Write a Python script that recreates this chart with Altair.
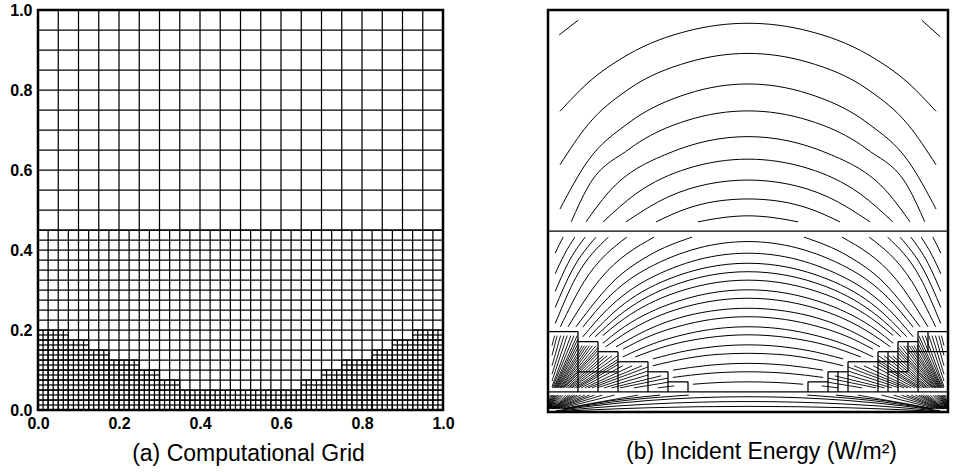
import altair as alt
import pandas as pd

FONT = "Liberation Sans"

# ---------------- (a) computational grid: spacing and block layout ----------------
COARSE_STEP = 0.05
MEDIUM_STEP = 0.025
FINE_STEP = 0.0125
INTERFACE_Y = 0.45
STEP_EDGES = [0.0, 0.075, 0.125, 0.175, 0.25, 0.3, 0.35, 0.65, 0.7, 0.75, 0.825, 0.875, 0.925, 1.0]
STEP_TOPS = [0.2, 0.175, 0.15, 0.125, 0.1, 0.075, 0.05, 0.075, 0.1, 0.125, 0.15, 0.175, 0.2]
TICKS = [0.0, 0.2, 0.4, 0.6, 0.8, 1.0]

# ---------------- (b) incident energy: contour lines ----------------
TOP_ARCS = [
    ([0.03, 0.1, 0.2, 0.35, 0.5, 0.65, 0.8, 0.9, 0.97], [0.748, 0.819, 0.889, 0.948, 0.967, 0.948, 0.889, 0.819, 0.748]),
    ([0.03, 0.1, 0.2, 0.35, 0.5, 0.65, 0.8, 0.9, 0.97], [0.615, 0.715, 0.802, 0.870, 0.892, 0.870, 0.802, 0.715, 0.615]),
    ([0.03, 0.1, 0.2, 0.35, 0.5, 0.65, 0.8, 0.9, 0.97], [0.505, 0.625, 0.718, 0.792, 0.816, 0.792, 0.718, 0.625, 0.505]),
    ([0.058, 0.1, 0.2, 0.35, 0.5, 0.65, 0.8, 0.9, 0.942], [0.473, 0.560, 0.652, 0.726, 0.749, 0.726, 0.652, 0.560, 0.473]),
    ([0.095, 0.15, 0.3, 0.5, 0.7, 0.85, 0.905], [0.473, 0.545, 0.643, 0.685, 0.643, 0.545, 0.473]),
    ([0.138, 0.22, 0.35, 0.5, 0.65, 0.78, 0.862], [0.473, 0.543, 0.606, 0.629, 0.606, 0.543, 0.473]),
    ([0.195, 0.3, 0.4, 0.5, 0.6, 0.7, 0.805], [0.473, 0.535, 0.567, 0.577, 0.567, 0.535, 0.473]),
    ([0.270, 0.35, 0.42, 0.5, 0.58, 0.65, 0.730], [0.473, 0.507, 0.524, 0.530, 0.524, 0.507, 0.473]),
    ([0.375, 0.44, 0.5, 0.56, 0.625], [0.473, 0.484, 0.488, 0.484, 0.473]),
    ([0.028, 0.076], [0.938, 0.975]),
    ([0.934, 0.98], [0.975, 0.934]),
]

MID_ARCS = [
    ([0.087, 0.15, 0.25, 0.5, 0.75, 0.85, 0.913], [0.211, 0.284, 0.358, 0.424, 0.358, 0.284, 0.211]),
    ([0.087, 0.15, 0.25, 0.5, 0.75, 0.85, 0.913], [0.187, 0.257, 0.330, 0.395, 0.330, 0.257, 0.187]),
    ([0.103, 0.175, 0.3, 0.5, 0.7, 0.825, 0.897], [0.187, 0.257, 0.330, 0.370, 0.330, 0.257, 0.187]),
    ([0.118, 0.175, 0.3, 0.5, 0.7, 0.825, 0.882], [0.187, 0.238, 0.310, 0.349, 0.310, 0.238, 0.187]),
    ([0.137, 0.175, 0.3, 0.5, 0.7, 0.825, 0.863], [0.190, 0.221, 0.290, 0.328, 0.290, 0.221, 0.190]),
    ([0.137, 0.175, 0.3, 0.5, 0.7, 0.825, 0.863], [0.171, 0.201, 0.267, 0.304, 0.267, 0.201, 0.171]),
    ([0.144, 0.2, 0.3, 0.5, 0.7, 0.8, 0.856], [0.162, 0.200, 0.248, 0.283, 0.248, 0.200, 0.162]),
    ([0.170, 0.25, 0.35, 0.5, 0.65, 0.75, 0.830], [0.162, 0.205, 0.240, 0.258, 0.240, 0.205, 0.162]),
    ([0.187, 0.25, 0.35, 0.5, 0.65, 0.75, 0.813], [0.156, 0.187, 0.219, 0.237, 0.219, 0.187, 0.156]),
    ([0.187, 0.25, 0.35, 0.5, 0.65, 0.75, 0.813], [0.137, 0.165, 0.195, 0.212, 0.195, 0.165, 0.137]),
    ([0.218, 0.3, 0.4, 0.5, 0.6, 0.7, 0.782], [0.137, 0.165, 0.185, 0.192, 0.185, 0.165, 0.137]),
    ([0.262, 0.35, 0.42, 0.5, 0.58, 0.65, 0.738], [0.132, 0.153, 0.163, 0.167, 0.163, 0.153, 0.132]),
    ([0.262, 0.35, 0.42, 0.5, 0.58, 0.65, 0.738], [0.115, 0.134, 0.143, 0.146, 0.143, 0.134, 0.115]),
    ([0.312, 0.4, 0.5, 0.6, 0.688], [0.104, 0.116, 0.121, 0.116, 0.104]),
    ([0.312, 0.4, 0.5, 0.6, 0.688], [0.086, 0.096, 0.100, 0.096, 0.086]),
    ([0.362, 0.43, 0.5, 0.57, 0.638], [0.069, 0.0735, 0.075, 0.0735, 0.069]),
]

SIDE_ARCS = [
    ([0.018, 0.028, 0.038], [0.395, 0.416, 0.435]),
    ([0.018, 0.04, 0.067], [0.344, 0.390, 0.435]),
    ([0.018, 0.05, 0.093], [0.300, 0.370, 0.435]),
    ([0.018, 0.06, 0.12], [0.260, 0.352, 0.435]),
    ([0.018, 0.07, 0.151], [0.220, 0.335, 0.435]),
    ([0.031, 0.09, 0.197], [0.212, 0.324, 0.435]),
    ([0.05, 0.13, 0.265], [0.212, 0.330, 0.435]),
    ([0.07, 0.17, 0.25, 0.36], [0.212, 0.331, 0.388, 0.435]),
    ([0.962, 0.972, 0.982], [0.435, 0.416, 0.395]),
    ([0.933, 0.96, 0.982], [0.435, 0.390, 0.344]),
    ([0.907, 0.95, 0.982], [0.435, 0.370, 0.300]),
    ([0.88, 0.94, 0.982], [0.435, 0.352, 0.260]),
    ([0.849, 0.93, 0.982], [0.435, 0.335, 0.220]),
    ([0.803, 0.91, 0.969], [0.435, 0.324, 0.212]),
    ([0.735, 0.87, 0.95], [0.435, 0.330, 0.212]),
    ([0.64, 0.75, 0.83, 0.93], [0.435, 0.388, 0.331, 0.212]),
]

STRIP_ARCS = [
    ([0.02, 0.1, 0.25, 0.5, 0.75, 0.9, 0.98], [0.003, 0.0137, 0.0285, 0.038, 0.0285, 0.0137, 0.003]),
    ([0.02, 0.1, 0.25, 0.5, 0.75, 0.9, 0.98], [0.002, 0.0094, 0.0195, 0.026, 0.0195, 0.0094, 0.002]),
    ([0.02, 0.1, 0.25, 0.5, 0.75, 0.9, 0.98], [0.0011, 0.005, 0.0105, 0.014, 0.0105, 0.005, 0.0011]),
    ([0.04, 0.15, 0.28], [0.008, 0.027, 0.042]),
    ([0.72, 0.85, 0.96], [0.042, 0.027, 0.008]),
    ([0.045, 0.2, 0.352], [0.008, 0.0295, 0.042]),
    ([0.648, 0.8, 0.955], [0.042, 0.0295, 0.008]),
]

# short contour pieces inside the refined corner blocks (x, y, x2, y2)
FINE_LEFT = [
    (0.010, 0.165, 0.0165, 0.190), (0.010, 0.141, 0.023, 0.190), (0.010, 0.115, 0.0315, 0.190),
    (0.010, 0.094, 0.040, 0.190), (0.010, 0.077, 0.048, 0.190), (0.010, 0.063, 0.057, 0.190),
    (0.011, 0.060, 0.065, 0.190), (0.014, 0.060, 0.073, 0.190), (0.016, 0.060, 0.075, 0.182),
    (0.018, 0.060, 0.075, 0.170), (0.020, 0.060, 0.078, 0.165), (0.022, 0.060, 0.085, 0.165),
    (0.024, 0.060, 0.091, 0.165), (0.026, 0.060, 0.097, 0.165), (0.029, 0.060, 0.104, 0.165),
    (0.031, 0.060, 0.111, 0.165), (0.033, 0.060, 0.120, 0.165), (0.036, 0.060, 0.125, 0.161),
    (0.0385, 0.060, 0.125, 0.154), (0.041, 0.060, 0.125, 0.146), (0.045, 0.060, 0.128, 0.140),
    (0.049, 0.060, 0.138, 0.140), (0.052, 0.060, 0.148, 0.140), (0.056, 0.060, 0.160, 0.140),
    (0.060, 0.060, 0.174, 0.140), (0.066, 0.060, 0.175, 0.131), (0.071, 0.060, 0.175, 0.1245),
    (0.076, 0.060, 0.175, 0.118), (0.083, 0.060, 0.187, 0.115), (0.092, 0.060, 0.2105, 0.115),
    (0.100, 0.060, 0.235, 0.115), (0.110, 0.060, 0.250, 0.112), (0.1225, 0.060, 0.250, 0.102),
    (0.140, 0.060, 0.250, 0.092), (0.1585, 0.060, 0.283, 0.090), (0.180, 0.060, 0.300, 0.0845),
    (0.215, 0.060, 0.300, 0.074), (0.274, 0.060, 0.316, 0.065),
]
FINE_RIGHT = [
    (0.990, 0.165, 0.9835, 0.190), (0.990, 0.141, 0.977, 0.190), (0.990, 0.115, 0.9685, 0.190),
    (0.990, 0.094, 0.960, 0.190), (0.990, 0.077, 0.952, 0.190), (0.990, 0.063, 0.943, 0.190),
    (0.989, 0.060, 0.935, 0.190), (0.986, 0.060, 0.927, 0.190), (0.984, 0.060, 0.925, 0.182),
    (0.982, 0.060, 0.925, 0.170), (0.980, 0.060, 0.922, 0.165), (0.978, 0.060, 0.915, 0.165),
    (0.976, 0.060, 0.909, 0.165), (0.974, 0.060, 0.903, 0.165), (0.971, 0.060, 0.896, 0.165),
    (0.969, 0.060, 0.889, 0.165), (0.967, 0.060, 0.880, 0.165), (0.964, 0.060, 0.875, 0.161),
    (0.9615, 0.060, 0.875, 0.154), (0.959, 0.060, 0.875, 0.146), (0.955, 0.060, 0.872, 0.140),
    (0.951, 0.060, 0.862, 0.140), (0.948, 0.060, 0.852, 0.140), (0.944, 0.060, 0.840, 0.140),
    (0.940, 0.060, 0.826, 0.140), (0.934, 0.060, 0.825, 0.131), (0.929, 0.060, 0.825, 0.1245),
    (0.924, 0.060, 0.825, 0.118), (0.917, 0.060, 0.813, 0.115), (0.908, 0.060, 0.7895, 0.115),
    (0.900, 0.060, 0.765, 0.115), (0.890, 0.060, 0.750, 0.112), (0.8775, 0.060, 0.750, 0.102),
    (0.860, 0.060, 0.750, 0.092), (0.8415, 0.060, 0.717, 0.090), (0.820, 0.060, 0.700, 0.0845),
    (0.785, 0.060, 0.700, 0.074), (0.726, 0.060, 0.684, 0.065),
]
# fan of contour pieces in the bottom strip, converging on the corners (x, y, x2, y2)
FAN_LEFT = [
    (0.0008, 0.008, 0.0058, 0.042), (0.0014, 0.008, 0.0088, 0.042), (0.002, 0.008, 0.0119, 0.042),
    (0.0025, 0.008, 0.0148, 0.042), (0.003, 0.008, 0.0175, 0.042), (0.0035, 0.008, 0.0204, 0.042),
    (0.0042, 0.008, 0.0241, 0.042), (0.0049, 0.008, 0.0278, 0.042), (0.0058, 0.008, 0.0327, 0.042),
    (0.0066, 0.008, 0.0375, 0.042), (0.0078, 0.008, 0.0444, 0.042), (0.0089, 0.008, 0.051, 0.042),
    (0.0097, 0.008, 0.0556, 0.042), (0.0107, 0.008, 0.0614, 0.042), (0.0116, 0.008, 0.067, 0.042),
    (0.0126, 0.008, 0.0729, 0.042), (0.0139, 0.008, 0.0811, 0.042), (0.0159, 0.008, 0.0919, 0.042),
    (0.0177, 0.008, 0.1033, 0.042), (0.0197, 0.008, 0.116, 0.042), (0.0226, 0.008, 0.1358, 0.042),
    (0.0269, 0.008, 0.1663, 0.042), (0.0341, 0.008, 0.2248, 0.042),
]
FAN_RIGHT = [
    (0.9992, 0.008, 0.9942, 0.042), (0.9986, 0.008, 0.9912, 0.042), (0.998, 0.008, 0.9881, 0.042),
    (0.9975, 0.008, 0.9852, 0.042), (0.997, 0.008, 0.9825, 0.042), (0.9965, 0.008, 0.9796, 0.042),
    (0.9958, 0.008, 0.9759, 0.042), (0.9951, 0.008, 0.9722, 0.042), (0.9942, 0.008, 0.9673, 0.042),
    (0.9934, 0.008, 0.9625, 0.042), (0.9922, 0.008, 0.9556, 0.042), (0.9911, 0.008, 0.949, 0.042),
    (0.9903, 0.008, 0.9444, 0.042), (0.9893, 0.008, 0.9386, 0.042), (0.9884, 0.008, 0.933, 0.042),
    (0.9874, 0.008, 0.9271, 0.042), (0.9861, 0.008, 0.9189, 0.042), (0.9841, 0.008, 0.9081, 0.042),
    (0.9823, 0.008, 0.8967, 0.042), (0.9803, 0.008, 0.884, 0.042), (0.9774, 0.008, 0.8642, 0.042),
    (0.9731, 0.008, 0.8337, 0.042), (0.9659, 0.008, 0.7752, 0.042),
]
# block boundaries drawn in panel (b) (x, y, x2, y2)
BLOCK_LINES = [
    (0.0, 0.45, 1.0, 0.45), (0.0, 0.05, 1.0, 0.05),
    (0.0, 0.2, 0.075, 0.2), (0.075, 0.175, 0.125, 0.175), (0.125, 0.15, 0.175, 0.15),
    (0.175, 0.125, 0.25, 0.125), (0.25, 0.1, 0.3, 0.1), (0.3, 0.075, 0.35, 0.075),
    (0.075, 0.05, 0.075, 0.2), (0.125, 0.05, 0.125, 0.175), (0.175, 0.05, 0.175, 0.15),
    (0.25, 0.05, 0.25, 0.125), (0.3, 0.05, 0.3, 0.1), (0.35, 0.05, 0.35, 0.075),
    (0.075, 0.1, 0.175, 0.1),
    (0.65, 0.075, 0.7, 0.075), (0.7, 0.1, 0.75, 0.1), (0.75, 0.125, 0.825, 0.125),
    (0.825, 0.15, 0.875, 0.15), (0.875, 0.175, 0.925, 0.175), (0.925, 0.2, 1.0, 0.2),
    (0.65, 0.05, 0.65, 0.075), (0.7, 0.05, 0.7, 0.1), (0.75, 0.05, 0.75, 0.125),
    (0.825, 0.05, 0.825, 0.15), (0.875, 0.05, 0.875, 0.175), (0.925, 0.05, 0.925, 0.2),
    (0.725, 0.05, 0.725, 0.1), (0.85, 0.05, 0.85, 0.15), (0.9, 0.1, 0.9, 0.175),
    (0.95, 0.15, 0.95, 0.2), (0.9, 0.15, 1.0, 0.15), (0.825, 0.125, 0.9, 0.125), (0.85, 0.1, 0.9, 0.1),
]

# ---------------- build tables ----------------
grid = []
for i in range(int(round(1 / COARSE_STEP)) + 1):
    x = i * COARSE_STEP
    grid.append((x, INTERFACE_Y, x, 1.0))
for j in range(int(round((1 - INTERFACE_Y) / COARSE_STEP)) + 1):
    y = INTERFACE_Y + j * COARSE_STEP
    grid.append((0.0, y, 1.0, y))
for i in range(int(round(1 / MEDIUM_STEP)) + 1):
    x = i * MEDIUM_STEP
    grid.append((x, 0.0, x, INTERFACE_Y))
for j in range(int(round(INTERFACE_Y / MEDIUM_STEP)) + 1):
    y = j * MEDIUM_STEP
    grid.append((0.0, y, 1.0, y))
for x0, x1, top in zip(STEP_EDGES[:-1], STEP_EDGES[1:], STEP_TOPS):
    for i in range(int(round((x1 - x0) / FINE_STEP)) + 1):
        grid.append((x0 + i * FINE_STEP, 0.0, x0 + i * FINE_STEP, top))
    for j in range(int(round(top / FINE_STEP)) + 1):
        grid.append((x0, j * FINE_STEP, x1, j * FINE_STEP))

grid_df = pd.DataFrame(grid, columns=["x", "y", "x2", "y2"])
block_df = pd.DataFrame(BLOCK_LINES, columns=["x", "y", "x2", "y2"])
piece_df = pd.DataFrame(FINE_LEFT + FINE_RIGHT + FAN_LEFT + FAN_RIGHT, columns=["x", "y", "x2", "y2"])

rows = []
for k, (xs_, ys_) in enumerate(TOP_ARCS + MID_ARCS + SIDE_ARCS + STRIP_ARCS):
    for x, y in zip(xs_, ys_):
        rows.append({"id": k, "x": x, "y": y})
curve_df = pd.DataFrame(rows)

# ---------------- charts ----------------
xscale = alt.Scale(domain=[0, 1], nice=False, zero=False)
yscale = alt.Scale(domain=[0, 1], nice=False, zero=False)

lab = dict(labelFont=FONT, labelFontSize=16, labelFontWeight="bold", labelColor="black",
           ticks=False, domain=False, grid=False, labelFlush=False, labelOverlap=False)
ttl = dict(titleFont=FONT, titleFontSize=23, titleFontWeight="normal", titleColor="black")

left_x = alt.X("x:Q", scale=xscale, axis=alt.Axis(values=TICKS, format=".1f", labelPadding=5,
                title="(a) Computational Grid", titlePadding=11, titleX=210, **lab, **ttl))
left_y = alt.Y("y:Q", scale=yscale, axis=alt.Axis(values=TICKS, format=".1f", labelPadding=6, title=None, **lab))

left = alt.Chart(grid_df).mark_rule(color="black", strokeWidth=1.25).encode(
    x=left_x, y=left_y, x2=alt.X2("x2"), y2=alt.Y2("y2")
).properties(width=405, height=400)

right_x = alt.X("x:Q", scale=xscale, axis=alt.Axis(labels=False, ticks=False, domain=False, grid=False,
                 title="(b) Incident Energy (W/m²)", titlePadding=28, titleX=213, **ttl))
right_y = alt.Y("y:Q", scale=yscale, axis=None)

blocks = alt.Chart(block_df).mark_rule(color="black", strokeWidth=1.3).encode(
    x=right_x, y=right_y, x2=alt.X2("x2"), y2=alt.Y2("y2"))
pieces = alt.Chart(piece_df).mark_rule(color="black", strokeWidth=0.9).encode(
    x=right_x, y=right_y, x2=alt.X2("x2"), y2=alt.Y2("y2"))
curves = alt.Chart(curve_df).mark_line(color="black", strokeWidth=1.0, interpolate="monotone").encode(
    x=right_x, y=right_y, detail="id:N")

right = alt.layer(blocks, pieces, curves).properties(width=400, height=402)

chart = alt.hconcat(left, right, spacing=105, bounds="flush").properties(
    padding={"left": 8, "top": 0, "right": 0, "bottom": 0},
    background="white",
).configure_view(stroke="black", strokeWidth=2.5)

chart.save("out.html", embed_options={"renderer": "svg", "actions": False})
